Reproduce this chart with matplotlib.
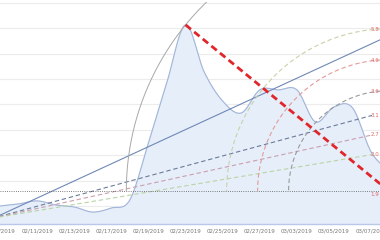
#!/usr/bin/env python3
"""
Gráfico de preço com arcos e leque de Fibonacci
"""

import numpy as np
import matplotlib
matplotlib.use("Agg")
import matplotlib.pyplot as plt

# Série de preço (um ponto por dia, índice 0 = 02/09/2019)
DIAS = list(range(22))
PRECO = [1.00, 1.08, 1.20, 1.04, 0.96, 0.76, 0.92, 1.24, 3.48, 5.88, 8.13,
         6.28, 5.13, 4.66, 5.57, 5.57, 5.57, 4.31, 4.90, 4.86, 3.13, 2.34]

TICK_POS = [0, 2, 4, 6, 8, 10, 12, 14, 16, 18, 20]
TICK_LABELS = ["02/09/2019", "02/11/2019", "02/13/2019", "02/17/2019",
               "02/19/2019", "02/23/2019", "02/25/2019", "02/27/2019",
               "03/03/2019", "03/05/2019", "03/07/2019"]

# Arcos de Fibonacci (do topo até o ponto final)
ARCO_INICIO = (10.0, 8.13)
ARCO_FIM = (20.96, 1.59)
ARCO_NIVEIS = [1.0, 0.618, 0.5, 0.382]
ARCO_ROTULOS = [None, "5.8", "4.6", "3.6"]
ARCO_CORES = ["#a8a8a8", "#c8d2a8", "#e39a9a", "#9a9a9a"]
ROTULO_FIM = "1.9"

# Leque de Fibonacci
LEQUE_INICIO = (-0.32, 0.53)
LEQUE_FIM = (20.05, 7.06)
LEQUE_NIVEIS = [0.618, 0.5, 0.382]
LEQUE_ROTULOS = ["3.1", "2.7", "2.0"]
LEQUE_CORES = ["#6b7b98", "#c9a0ad", "#b9d4a4"]

# Linha de tendência
LINHA_INICIO = (-0.32, 0.53)
LINHA_FIM = (20.48, 7.54)

XLIM = (0.213, 20.48)
YLIM = (0.291, 9.03)
X_ROTULO = 20.44  # borda direita dos rótulos


def suavizar(x, y, n=20):
    """Curva Catmull-Rom só para desenhar a linha"""
    x = np.asarray(x, float)
    y = np.asarray(y, float)
    px = np.concatenate([[2 * x[0] - x[1]], x, [2 * x[-1] - x[-2]]])
    py = np.concatenate([[2 * y[0] - y[1]], y, [2 * y[-1] - y[-2]]])
    xs, ys = [], []
    t = np.linspace(0, 1, n, endpoint=False)
    for i in range(1, len(px) - 2):
        for p, out in ((px, xs), (py, ys)):
            p0, p1, p2, p3 = p[i - 1], p[i], p[i + 1], p[i + 2]
            out.extend(0.5 * (2 * p1 + (-p0 + p2) * t
                              + (2 * p0 - 5 * p1 + 4 * p2 - p3) * t ** 2
                              + (-p0 + 3 * p1 - 3 * p2 + p3) * t ** 3))
    xs.append(x[-1])
    ys.append(y[-1])
    return np.array(xs), np.array(ys)


fig = plt.figure(figsize=(3.8, 2.4), dpi=100)
ax = fig.add_axes([0, 16 / 240, 1, 222 / 240])
ax.set_xlim(*XLIM)
ax.set_ylim(*YLIM)

# Grade
ax.set_yticks(range(1, 10))
ax.set_yticklabels([])
ax.grid(True, axis="y", color="#ececec", linewidth=0.8)
ax.set_axisbelow(True)
ax.tick_params(axis="both", length=0)
ax.set_xticks(TICK_POS, TICK_LABELS, fontsize=4, color="#777777")
ax.tick_params(axis="x", pad=3)
for lado in ["top", "left", "right"]:
    ax.spines[lado].set_visible(False)
ax.spines["bottom"].set_color("#b8c8e6")
ax.spines["bottom"].set_linewidth(1.0)

# Área de preço
xs, ys = suavizar(DIAS, PRECO)
ax.fill_between(xs, ys, YLIM[0], color="#e6eefa", zorder=1)
ax.plot(xs, ys, color="#a3b5d8", linewidth=0.8, zorder=2)

# Linha de tendência
ax.plot([LINHA_INICIO[0], LINHA_FIM[0]], [LINHA_INICIO[1], LINHA_FIM[1]],
        color="#6f88b6", linewidth=0.8, zorder=3)

# Leque
for nivel, rot, cor in zip(LEQUE_NIVEIS, LEQUE_ROTULOS, LEQUE_CORES):
    yf = LEQUE_INICIO[1] + nivel * (LEQUE_FIM[1] - LEQUE_INICIO[1])
    ax.plot([LEQUE_INICIO[0], LEQUE_FIM[0]], [LEQUE_INICIO[1], yf],
            color=cor, linewidth=0.8, dashes=(4, 2.5), zorder=3)
    ax.text(X_ROTULO, yf, rot, fontsize=4, color="#e06a6a",
            va="center", ha="right", zorder=5)

# Linha horizontal no ponto final
ax.axhline(ARCO_FIM[1], color="#555555", linewidth=0.6, linestyle=":", zorder=3)
ax.text(X_ROTULO, ARCO_FIM[1] - 0.12, ROTULO_FIM, fontsize=4,
        color="#e06a6a", va="center", ha="right", zorder=5)

# Arcos (círculos em pixels, centrados no ponto final)
trans = ax.transData
centro = trans.transform(ARCO_FIM)
topo = trans.transform(ARCO_INICIO)
raio = np.hypot(*(topo - centro))
ang = np.linspace(np.pi / 2, np.pi, 200)
x_rot = trans.transform((LEQUE_FIM[0] + 0.1, 0))[0]
for nivel, rot, cor in zip(ARCO_NIVEIS, ARCO_ROTULOS, ARCO_CORES):
    r = raio * nivel
    pts = np.column_stack([centro[0] + r * np.cos(ang), centro[1] + r * np.sin(ang)])
    dados = trans.inverted().transform(pts)
    if nivel == 1.0:
        ax.plot(dados[:, 0], dados[:, 1], color=cor, linewidth=0.7, zorder=3)
    else:
        ax.plot(dados[:, 0], dados[:, 1], color=cor, linewidth=0.8,
                dashes=(4, 2.5), zorder=3)
    if rot:
        yp = centro[1] + np.sqrt(r ** 2 - (x_rot - centro[0]) ** 2)
        yd = trans.inverted().transform((x_rot, yp))[1]
        ax.text(X_ROTULO, yd, rot, fontsize=4, color="#e06a6a",
                va="center", ha="right", zorder=5)

# Linha vermelha do topo ao ponto final
ax.plot([ARCO_INICIO[0], ARCO_FIM[0]], [ARCO_INICIO[1], ARCO_FIM[1]],
        color="#e0262a", linewidth=2.0, dashes=(2.5, 1.5), zorder=4)

fig.savefig("out.png", dpi=100)
